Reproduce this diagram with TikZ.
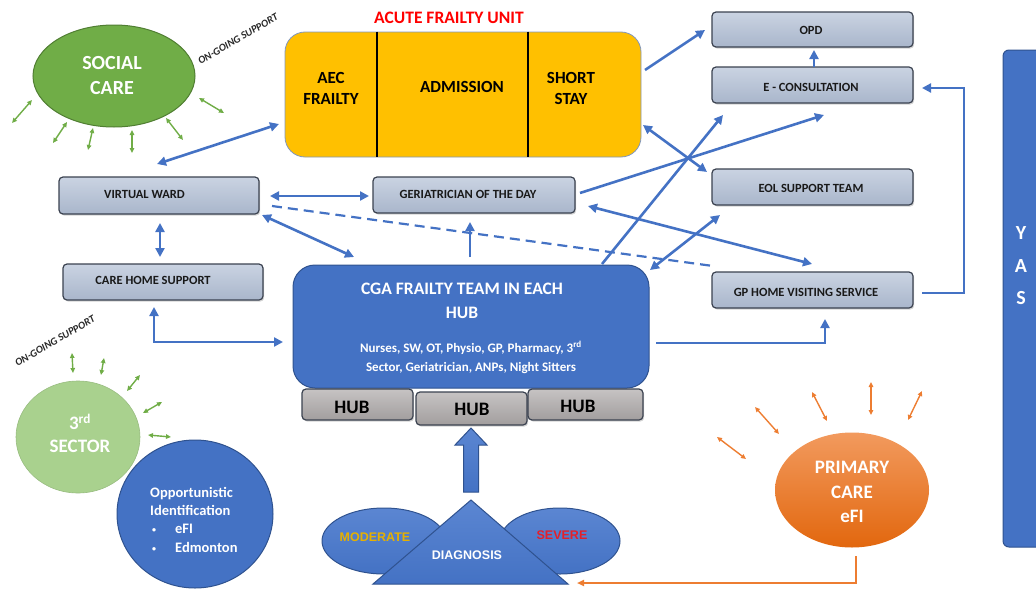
\documentclass[tikz,border=0pt]{standalone}
\usepackage{fontspec}
\setmainfont{Carlito}
\newfontfamily\arialf{Liberation Sans}
\usetikzlibrary{shapes.geometric,arrows.meta,shadows,calc}
\definecolor{bblue}{HTML}{4472C4}
\definecolor{bbluedark}{HTML}{2F528F}
\definecolor{bbluelight}{HTML}{5B86D2}
\definecolor{afuyel}{HTML}{FFC000}
\definecolor{gboxtop}{HTML}{CAD3E2}
\definecolor{gboxbot}{HTML}{A9B6CB}
\definecolor{gboxline}{HTML}{3B4250}
\definecolor{hubtop}{HTML}{C6C3C3}
\definecolor{hubbot}{HTML}{A29E9E}
\definecolor{scgreen}{HTML}{70AD47}
\definecolor{scgreendark}{HTML}{507E32}
\definecolor{tsgreen}{HTML}{A9D18E}
\definecolor{orangeA}{HTML}{ED7D31}
\definecolor{pctop}{HTML}{F29A5E}
\definecolor{pcbot}{HTML}{E2670E}
\definecolor{modgold}{HTML}{E6B000}
\definecolor{sevred}{HTML}{E3202A}
\definecolor{afured}{HTML}{FF0000}
\newcommand\smbul{\raisebox{1pt}{\fontsize{8}{8}\selectfont\textbullet}}
\tikzset{
  gbox/.style={rectangle, rounded corners=4pt, draw=gboxline, line width=1.2pt,
    top color=gboxtop, bottom color=gboxbot, minimum width=201pt, minimum height=36pt,
    inner sep=0pt, drop shadow={shadow xshift=1.2pt, shadow yshift=-1.6pt, opacity=0.35}},
  gtext/.style={font=\bfseries\fontsize{12.5}{15}\selectfont, text=black!90, inner sep=0pt},
  hubbox/.style={rectangle, rounded corners=4pt, draw=gboxline, line width=1.2pt,
    top color=hubtop, bottom color=hubbot, inner sep=0pt,
    drop shadow={shadow xshift=1.2pt, shadow yshift=-1.6pt, opacity=0.35}},
  hubtext/.style={font=\bfseries\fontsize{19}{22}\selectfont, text=black, inner sep=0pt},
  afutext/.style={font=\bfseries\fontsize{17}{21}\selectfont, text=black, align=center, inner sep=0pt},
  conn/.style={draw=bblue, line width=2.6pt},
  arr/.style={conn, -{Triangle[length=9pt,width=9pt]}},
  darr/.style={conn, {Triangle[length=9pt,width=9pt]}-{Triangle[length=9pt,width=9pt]}},
  dashconn/.style={draw=bblue, line width=2.2pt, dash pattern=on 10pt off 6pt},
  garr/.style={draw=scgreen, line width=1.4pt, {Triangle[length=5pt,width=4.5pt]}-{Triangle[length=5pt,width=4.5pt]}},
  oarr/.style={draw=orangeA, line width=1.4pt, {Triangle[length=5pt,width=4.5pt]}-{Triangle[length=5pt,width=4.5pt]}},
  ongoing/.style={font=\bfseries\itshape\fontsize{10.5}{12}\selectfont, text=black!85, rotate=30, inner sep=0pt},
  wtext/.style={text=white, align=center, inner sep=0pt},
}
\begin{document}
\begin{tikzpicture}[x=1pt,y=-1pt]
\useasboundingbox (0,0) rectangle (1036,589);
\clip (0,0) rectangle (1036,589);

% ---------- Social care ----------
\node[ellipse, fill=scgreen, draw=scgreendark, line width=1pt, minimum width=162pt, minimum height=102pt, inner sep=0pt] (social) at (114,76) {};
\node[wtext, font=\bfseries\fontsize{20}{25}\selectfont] (socialt) at (112,76) {SOCIAL\\CARE};
\node[ongoing] (og1) at (238,39) {ON-GOING SUPPORT};
\draw[garr] (32,100) -- (12,123);
\draw[garr] (67,122) -- (53,143);
\draw[garr] (93,128) -- (88,150);
\draw[garr] (132,130) -- (132,153);
\draw[garr] (166,118) -- (183,140);
\draw[garr] (199,98) -- (224,113);

% ---------- Acute frailty unit ----------
\node[font=\bfseries\fontsize{17.5}{20}\selectfont, text=afured, inner sep=0pt] (afutitle) at (449,18) {ACUTE FRAILTY UNIT};
\node[rectangle, rounded corners=20pt, fill=afuyel, draw=bbluedark!60, line width=0.8pt, minimum width=356pt, minimum height=125pt, inner sep=0pt] (afu) at (463,94.5) {};
\draw[black, line width=1.3pt] (afu.north west -| 377,0) coordinate (dv1a) -- (afu.south west -| 377,0) coordinate (dv1b);
\draw[black, line width=1.3pt] (afu.north west -| 528,0) coordinate (dv2a) -- (afu.south west -| 528,0) coordinate (dv2b);
\node[afutext] (aec) at (331,88.5) {AEC\\FRAILTY};
\node[afutext] (adm) at (462,87) {ADMISSION};
\node[afutext] (sst) at (571,88.5) {SHORT\\STAY};

% ---------- right column boxes ----------
\node[gbox, minimum height=35pt] (opd) at (812.5,29.5) {};
\node[gtext] (opdt) at (811,30) {OPD};
\node[gbox] (econ) at (812.5,85) {};
\node[gtext] (econt) at (811,87) {E - CONSULTATION};
\node[gbox] (eol) at (812.5,187) {};
\node[gtext] (eolt) at (811,188) {EOL SUPPORT TEAM};
\node[gbox] (gphv) at (812.5,290) {};
\node[gtext] (gphvt) at (806,292) {GP HOME VISITING SERVICE};

% ---------- left boxes ----------
\node[gbox, minimum width=200pt, minimum height=37pt] (vw) at (159,195.5) {};
\node[gtext] (vwt) at (144.5,194.5) {VIRTUAL WARD};
\node[gbox, minimum width=200pt] (chs) at (163,282) {};
\node[gtext] (chst) at (153,280.5) {CARE HOME SUPPORT};
\node[gbox, minimum width=202pt] (ger) at (474,195) {};
\node[gtext] (gert) at (468,194) {GERIATRICIAN OF THE DAY};

% ---------- CGA ----------
\node[rectangle, rounded corners=22pt, fill=bblue, draw=bbluedark, line width=1pt, minimum width=356pt, minimum height=123pt, inner sep=0pt] (cga) at (471,326.5) {};
\node[wtext, font=\bfseries\fontsize{17.5}{24}\selectfont] (cgat) at (462,301) {CGA FRAILTY TEAM IN EACH\\HUB};
\node[wtext, font=\bfseries\fontsize{13}{19}\selectfont] (cgas) at (471,357.5) {Nurses, SW, OT, Physio, GP, Pharmacy, 3\textsuperscript{rd}\\Sector, Geriatrician, ANPs, Night Sitters};
\node[hubbox, minimum width=111pt, minimum height=31pt] (hub1) at (357.5,404.5) {};
\node[hubtext] (hub1t) at (352,407) {HUB};
\node[hubbox, minimum width=111pt, minimum height=33pt] (hub2) at (471.5,408.5) {};
\node[hubtext] (hub2t) at (472,409) {HUB};
\node[hubbox, minimum width=115pt, minimum height=31pt] (hub3) at (585.5,404.5) {};
\node[hubtext] (hub3t) at (578,406) {HUB};

% ---------- YAS ----------
\node[rectangle, rounded corners=6pt, fill=bblue, draw=bbluedark, line width=1pt, minimum width=50pt, minimum height=497pt, inner sep=0pt] (yas) at (1028,298.5) {};
\node[wtext, font=\bfseries\fontsize{20}{32.5}\selectfont] (yast) at (1021,266) {Y\\A\\S};

% ---------- 3rd sector ----------
\node[ellipse, fill=tsgreen, draw=tsgreen!90!black, line width=0.6pt, minimum width=124pt, minimum height=112pt, inner sep=0pt] (third) at (78,437) {};
\node[wtext, font=\bfseries\fontsize{19}{23}\selectfont] (thirdt) at (80,433.5) {3\textsuperscript{rd}\\SECTOR};
\node[ongoing] (og2) at (55,341) {ON-GOING SUPPORT};
\draw[garr] (72,353) -- (73,373);
\draw[garr] (104,358) -- (101,375);
\draw[garr] (140,375) -- (127,391);
\draw[garr] (162,402) -- (143,413);
\draw[garr] (148,435) -- (171,437);

% ---------- Opportunistic identification ----------
\node[ellipse, fill=bblue, draw=bbluedark, line width=1pt, minimum width=156pt, minimum height=148pt, inner sep=0pt] (opp) at (195,514) {};
\node[text=white, align=left, anchor=west, inner sep=0pt, font=\bfseries\fontsize{14.5}{18.3}\selectfont] (oppt) at (150,519.5)
  {Opportunistic\\Identification\\\makebox[25pt][l]{\hspace{2pt}\smbul}eFI\\\makebox[25pt][l]{\hspace{2pt}\smbul}Edmonton};

% ---------- Primary care ----------
\node[ellipse, top color=pctop, bottom color=pcbot, draw=none, minimum width=154pt, minimum height=115pt, inner sep=0pt] (pc) at (852,490) {};
\node[wtext, font=\bfseries\fontsize{19}{24.5}\selectfont] (pct) at (852,492) {PRIMARY\\CARE\\eFI};
\draw[oarr] (717,437) -- (746,459);
\draw[oarr] (755,407) -- (779,434);
\draw[oarr] (812,392) -- (827,421);
\draw[oarr] (871,382) -- (871,415);
\draw[oarr] (922,391) -- (908,420);

% ---------- Diagnosis ----------
\node[ellipse, top color=bbluelight, bottom color=bblue, draw=bbluedark, line width=1pt, minimum width=124pt, minimum height=66pt, inner sep=0pt] (mod) at (384,541) {};
\node[ellipse, top color=bbluelight, bottom color=bblue, draw=bbluedark, line width=1pt, minimum width=120pt, minimum height=66pt, inner sep=0pt] (sev) at (560,541) {};
\path[top color=bbluelight, bottom color=bblue, draw=bbluedark, line width=1pt]
  (471,500) coordinate (dtop) -- (568,584) coordinate (dr) -- (373,584) coordinate (dl) -- cycle;
\node[font=\arialf\bfseries\fontsize{12.5}{14}\selectfont, text=modgold, inner sep=0pt] (modt) at (375,537) {MODERATE};
\node[font=\arialf\bfseries\fontsize{12.5}{14}\selectfont, text=sevred, inner sep=0pt] (sevt) at (562,535) {SEVERE};
\node[font=\arialf\bfseries\fontsize{12.5}{14}\selectfont, text=white, inner sep=0pt] (diagt) at (467,555) {DIAGNOSIS};
% block arrow up to hub
\path[top color=bbluelight, bottom color=bblue, draw=bbluedark, line width=1pt]
  (463.5,492) -- (463.5,445) -- (455,445) -- (471,428) coordinate (btip) -- (487,445) -- (478.5,445) -- (478.5,492) -- cycle;

% orange connector primary care -> diagnosis
\coordinate (pcout) at (856,556);
\coordinate (diagin) at (577,583);
\draw[draw=orangeA, line width=1.8pt, -{Triangle[length=7pt,width=6pt]}] (pcout) |- (diagin);

% ---------- blue connectors ----------
\coordinate (c1a) at (157,164);  \coordinate (c1b) at (279,124);
\draw[darr] (c1a) -- (c1b);
\coordinate (c2a) at (270,196);  \coordinate (c2b) at (369,196);
\draw[darr] (c2a) -- (c2b);
\coordinate (c3a) at (272,206);  \coordinate (c3b) at (713,266);
\draw[dashconn] (c3a) -- (c3b);
\coordinate (c4a) at (262,215);  \coordinate (c4b) at (354,257);
\draw[darr] (c4a) -- (c4b);
\coordinate (c5a) at (160,223);  \coordinate (c5b) at (160,257);
\draw[darr] (c5a) -- (c5b);
\coordinate (c6a) at (154,307);  \coordinate (c6b) at (283,342);
\draw[darr] (c6a) |- (c6b);
\coordinate (c7a) at (470,257);  \coordinate (c7b) at (470,222);
\draw[arr] (c7a) -- (c7b);
\coordinate (c8a) at (656,343);  \coordinate (c8b) at (825,319);
\draw[arr] (c8a) -| (c8b);
\coordinate (c9a) at (602,264);  \coordinate (c9b) at (723,115);
\draw[arr] (c9a) -- (c9b);
\coordinate (c10a) at (580,193); \coordinate (c10b) at (824,115);
\draw[arr] (c10a) -- (c10b);
\coordinate (c11a) at (643,125); \coordinate (c11b) at (707,172);
\draw[darr] (c11a) -- (c11b);
\coordinate (c12a) at (588,206); \coordinate (c12b) at (812,264);
\draw[darr] (c12a) -- (c12b);
\coordinate (c13a) at (650,270); \coordinate (c13b) at (720,215);
\draw[darr] (c13a) -- (c13b);
\coordinate (c14a) at (645,70);  \coordinate (c14b) at (705,30);
\draw[arr] (c14a) -- (c14b);
\coordinate (c15a) at (814,67);  \coordinate (c15b) at (814,50);
\draw[arr] (c15a) -- (c15b);
\coordinate (c16a) at (922,293); \coordinate (c16c) at (964,88); \coordinate (c16b) at (922,88);
\draw[arr] (c16a) -| (c16c) -- (c16b);
\end{tikzpicture}
\end{document}
